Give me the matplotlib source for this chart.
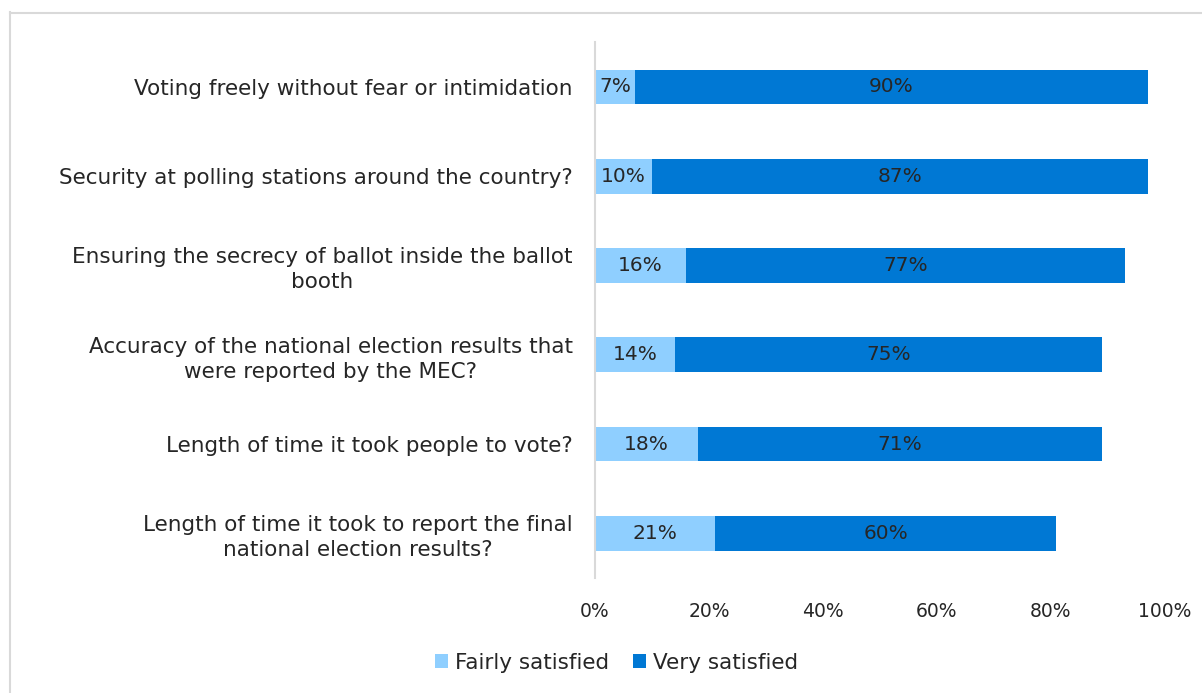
import matplotlib.pyplot as plt
from matplotlib.lines import Line2D

light_blue = "#8FCFFF"
dark_blue = "#0078D4"
text_color = "#262626"

# data (top to bottom as in the chart)
categories = [
    "Voting freely without fear or intimidation",
    "Security at polling stations around the country?",
    "Ensuring the secrecy of ballot inside the ballot\nbooth",
    "Accuracy of the national election results that\nwere reported by the MEC?",
    "Length of time it took people to vote?",
    "Length of time it took to report the final\nnational election results?",
]
fairly = [7, 10, 16, 14, 18, 21]
very = [90, 87, 77, 75, 71, 60]

plt.rcParams['font.family'] = ['DejaVu Sans']

fig = plt.figure(figsize=(12.02, 6.93), dpi=100)
ax = fig.add_axes([0.495, 0.166, 0.474, 0.773])

y = list(range(len(categories)))[::-1]
h = 0.39
ax.barh(y, fairly, height=h, color=light_blue, label="Fairly satisfied")
ax.barh(y, very, left=fairly, height=h, color=dark_blue, label="Very satisfied")

for yi, f, v in zip(y, fairly, very):
    ax.text(f / 2, yi, f"{f}%", ha="center", va="center", fontsize=14.5, color=text_color)
    ax.text(f + v / 2, yi, f"{v}%", ha="center", va="center", fontsize=14.5, color=text_color)

ax.set_xlim(0, 100)
ax.set_ylim(-0.5, len(categories) - 0.5)
ax.set_xticks([0, 20, 40, 60, 80, 100])
ax.set_xticklabels([f"{t}%" for t in [0, 20, 40, 60, 80, 100]])
ax.set_yticks(y)
ax.set_yticklabels(categories, fontsize=15.5, color=text_color)
ax.tick_params(axis="x", length=0, labelsize=13.5, colors=text_color, pad=17)
ax.tick_params(axis="y", length=0, pad=16)
for lbl in ax.get_yticklabels():
    lbl.set_multialignment("center")
    lbl.set_linespacing(1.3)

for side in ["top", "right", "bottom"]:
    ax.spines[side].set_visible(False)
ax.spines["left"].set_color("#D9D9D9")
ax.spines["left"].set_linewidth(1.5)

leg = fig.legend(loc="center", bbox_to_anchor=(0.513, 0.044), ncol=2, frameon=False,
                 fontsize=15.5, handlelength=0.6, handleheight=0.6, handletextpad=0.35,
                 columnspacing=1.1)
for t in leg.get_texts():
    t.set_color(text_color)

# outer border (top and left only visible)
fig.add_artist(Line2D([10 / 1202, 1.0], [1 - 12.5 / 693] * 2, transform=fig.transFigure,
                      color="#D9D9D9", linewidth=1.5))
fig.add_artist(Line2D([10.5 / 1202] * 2, [0.0, 1 - 12 / 693], transform=fig.transFigure,
                      color="#D9D9D9", linewidth=1.5))

fig.savefig("out.png", dpi=100)
